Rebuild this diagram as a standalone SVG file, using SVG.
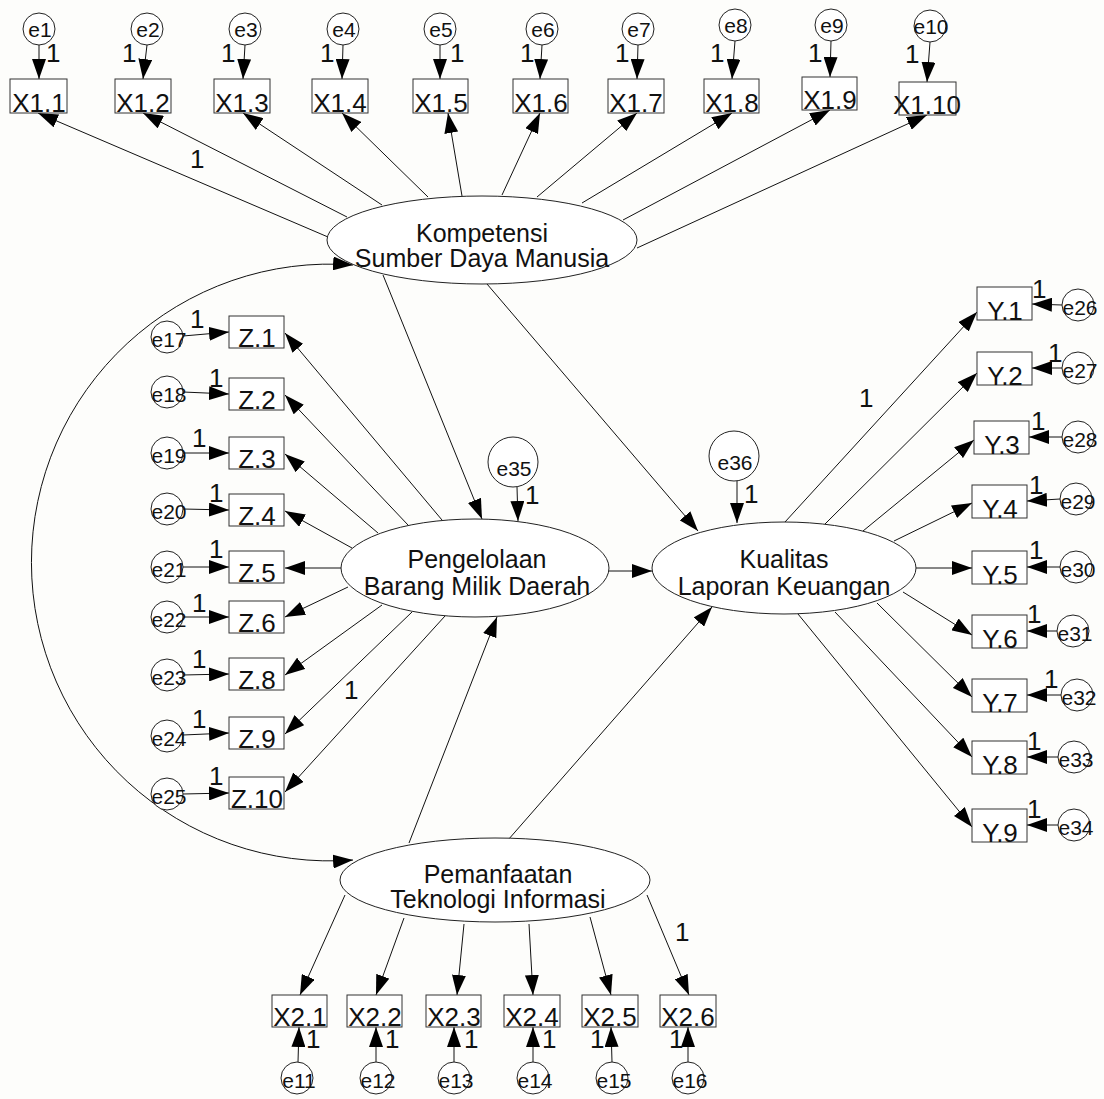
<svg xmlns="http://www.w3.org/2000/svg" width="1104" height="1099" viewBox="0 0 1104 1099">
  <style>
    .ln { stroke:#111; stroke-width:1; fill:none; marker-end:url(#ah); }
    .cov { stroke:#111; stroke-width:1; fill:none; marker-start:url(#ah); marker-end:url(#ah); }
    .box { fill:#fff; stroke:#333; stroke-width:1; }
    .err { fill:#fff; stroke:#222; stroke-width:1; }
    .lat { fill:#fff; stroke:#222; stroke-width:1; }
    text { font-family:"Liberation Sans", Arial, sans-serif; fill:#111; }
    .bt { font-size:26px; text-anchor:middle; }
    .et { font-size:21px; text-anchor:middle; }
    .lt { font-size:25px; text-anchor:middle; }
    .one { font-size:26px; }
  </style>
  <defs>
    <marker id="ah" markerUnits="userSpaceOnUse" markerWidth="20" markerHeight="14" viewBox="0 0 20 14" refX="20" refY="7" orient="auto-start-reverse">
      <path d="M0,0 L20,7 L0,14 z" fill="#000"/>
    </marker>
  </defs>
  <rect width="1104" height="1099" fill="#fdfdfb"/>

  <!-- connectors -->
  <g id="connectors">
    <!-- covariance between exogenous latents -->
    <path class="cov" d="M353,265 A298.4,298.4 0 1 0 353,860"/>
    <!-- Kompetensi SDM loadings -->
    <line class="ln" x1="328" y1="237" x2="38" y2="113"/>
    <line class="ln" x1="347" y1="217" x2="143" y2="113"/>
    <line class="ln" x1="382" y1="205" x2="243" y2="113"/>
    <line class="ln" x1="428" y1="197" x2="342" y2="113"/>
    <line class="ln" x1="462" y1="196" x2="448" y2="113"/>
    <line class="ln" x1="502" y1="195" x2="540" y2="113"/>
    <line class="ln" x1="537" y1="197" x2="637" y2="113"/>
    <line class="ln" x1="582" y1="203" x2="732" y2="113"/>
    <line class="ln" x1="623" y1="220" x2="830" y2="110"/>
    <line class="ln" x1="637" y1="248" x2="927" y2="115"/>
    <!-- structural paths -->
    <line class="ln" x1="383" y1="275" x2="482" y2="519"/>
    <line class="ln" x1="487" y1="284" x2="698" y2="531"/>
    <line class="ln" x1="609" y1="571" x2="652" y2="571"/>
    <line class="ln" x1="409" y1="843" x2="497" y2="617"/>
    <line class="ln" x1="508" y1="840" x2="712" y2="607"/>
    <!-- Pengelolaan BMD loadings -->
    <line class="ln" x1="442" y1="520" x2="285" y2="333"/>
    <line class="ln" x1="408" y1="525" x2="285" y2="395"/>
    <line class="ln" x1="378" y1="533" x2="285" y2="454"/>
    <line class="ln" x1="352" y1="548" x2="285" y2="511"/>
    <line class="ln" x1="342" y1="568" x2="285" y2="568"/>
    <line class="ln" x1="348" y1="587" x2="285" y2="617"/>
    <line class="ln" x1="382" y1="605" x2="285" y2="675"/>
    <line class="ln" x1="412" y1="612" x2="285" y2="734"/>
    <line class="ln" x1="445" y1="616" x2="285" y2="792"/>
    <!-- Kualitas LK loadings -->
    <line class="ln" x1="785" y1="522" x2="977" y2="312"/>
    <line class="ln" x1="825" y1="524" x2="977" y2="373"/>
    <line class="ln" x1="863" y1="531" x2="974" y2="440"/>
    <line class="ln" x1="894" y1="541" x2="972" y2="503"/>
    <line class="ln" x1="916" y1="568" x2="972" y2="568"/>
    <line class="ln" x1="903" y1="592" x2="972" y2="635"/>
    <line class="ln" x1="877" y1="603" x2="972" y2="697"/>
    <line class="ln" x1="835" y1="612" x2="972" y2="757"/>
    <line class="ln" x1="798" y1="614" x2="972" y2="827"/>
    <!-- Pemanfaatan TI loadings -->
    <line class="ln" x1="345" y1="895" x2="300" y2="995"/>
    <line class="ln" x1="404" y1="918" x2="376" y2="995"/>
    <line class="ln" x1="464" y1="924" x2="457" y2="995"/>
    <line class="ln" x1="529" y1="924" x2="533" y2="995"/>
    <line class="ln" x1="590" y1="917" x2="611" y2="995"/>
    <line class="ln" x1="647" y1="895" x2="689" y2="995"/>
    <!-- error terms, top row -->
    <line class="ln" x1="39" y1="45" x2="39" y2="79"/>
    <line class="ln" x1="147" y1="45" x2="143" y2="79"/>
    <line class="ln" x1="245" y1="45" x2="243" y2="79"/>
    <line class="ln" x1="343" y1="45" x2="342" y2="79"/>
    <line class="ln" x1="440" y1="45" x2="440" y2="79"/>
    <line class="ln" x1="542" y1="45" x2="540" y2="79"/>
    <line class="ln" x1="638" y1="45" x2="637" y2="79"/>
    <line class="ln" x1="735" y1="41" x2="732" y2="79"/>
    <line class="ln" x1="831" y1="41" x2="830" y2="77"/>
    <line class="ln" x1="930" y1="42" x2="927" y2="82"/>
    <!-- error terms, Z column -->
    <line class="ln" x1="183" y1="336" x2="229" y2="332"/>
    <line class="ln" x1="183" y1="392" x2="229" y2="394"/>
    <line class="ln" x1="183" y1="453" x2="229" y2="453"/>
    <line class="ln" x1="183" y1="509" x2="229" y2="510"/>
    <line class="ln" x1="183" y1="567" x2="229" y2="567"/>
    <line class="ln" x1="183" y1="617" x2="229" y2="617"/>
    <line class="ln" x1="183" y1="675" x2="229" y2="674"/>
    <line class="ln" x1="183" y1="735" x2="229" y2="733"/>
    <line class="ln" x1="183" y1="794" x2="229" y2="793"/>
    <!-- error terms, Y column -->
    <line class="ln" x1="1062" y1="305" x2="1032" y2="304"/>
    <line class="ln" x1="1062" y1="368" x2="1032" y2="368"/>
    <line class="ln" x1="1062" y1="437" x2="1029" y2="437"/>
    <line class="ln" x1="1060" y1="499" x2="1027" y2="501"/>
    <line class="ln" x1="1060" y1="567" x2="1027" y2="567"/>
    <line class="ln" x1="1057" y1="631" x2="1027" y2="631"/>
    <line class="ln" x1="1061" y1="695" x2="1027" y2="695"/>
    <line class="ln" x1="1058" y1="757" x2="1027" y2="757"/>
    <line class="ln" x1="1058" y1="825" x2="1027" y2="825"/>
    <!-- error terms, bottom row -->
    <line class="ln" x1="298" y1="1062" x2="299" y2="1027"/>
    <line class="ln" x1="376" y1="1062" x2="376" y2="1027"/>
    <line class="ln" x1="454" y1="1062" x2="454" y2="1027"/>
    <line class="ln" x1="533" y1="1062" x2="533" y2="1027"/>
    <line class="ln" x1="612" y1="1062" x2="611" y2="1027"/>
    <line class="ln" x1="688" y1="1062" x2="688" y2="1027"/>
    <!-- disturbances -->
    <line class="ln" x1="517" y1="487" x2="518" y2="521"/>
    <line class="ln" x1="737" y1="481" x2="737" y2="523"/>
  </g>

  <!-- regression weight labels -->
  <g id="weights" class="one">
    <text x="46" y="62">1</text>
    <text x="122" y="62">1</text>
    <text x="221" y="62">1</text>
    <text x="320" y="62">1</text>
    <text x="450" y="62">1</text>
    <text x="520" y="62">1</text>
    <text x="615" y="62">1</text>
    <text x="710" y="62">1</text>
    <text x="808" y="62">1</text>
    <text x="905" y="63">1</text>
    <text x="190" y="168">1</text>
    <text x="190" y="328">1</text>
    <text x="209" y="387">1</text>
    <text x="192" y="447">1</text>
    <text x="209" y="502">1</text>
    <text x="209" y="558">1</text>
    <text x="192" y="612">1</text>
    <text x="192" y="668">1</text>
    <text x="192" y="728">1</text>
    <text x="209" y="785">1</text>
    <text x="344" y="699">1</text>
    <text x="1032" y="298">1</text>
    <text x="1048" y="362">1</text>
    <text x="1031" y="430">1</text>
    <text x="1029" y="494">1</text>
    <text x="1029" y="559">1</text>
    <text x="1027" y="623">1</text>
    <text x="1044" y="688">1</text>
    <text x="1027" y="750">1</text>
    <text x="1027" y="818">1</text>
    <text x="859" y="407">1</text>
    <text x="525" y="504">1</text>
    <text x="744" y="503">1</text>
    <text x="306" y="1048">1</text>
    <text x="385" y="1048">1</text>
    <text x="464" y="1048">1</text>
    <text x="542" y="1048">1</text>
    <text x="590" y="1048">1</text>
    <text x="669" y="1048">1</text>
    <text x="675" y="941">1</text>
  </g>

  <!-- latent variables -->
  <g id="ksdm">
    <ellipse class="lat" cx="482" cy="240" rx="155" ry="44"/>
    <text class="lt" x="482" y="242">Kompetensi</text>
    <text class="lt" x="482" y="267">Sumber Daya Manusia</text>
  </g>
  <g id="pbmd">
    <ellipse class="lat" cx="475" cy="568" rx="134" ry="49"/>
    <text class="lt" x="477" y="568">Pengelolaan</text>
    <text class="lt" x="477" y="595">Barang Milik Daerah</text>
  </g>
  <g id="klk">
    <ellipse class="lat" cx="784" cy="568" rx="132" ry="46"/>
    <text class="lt" x="784" y="568">Kualitas</text>
    <text class="lt" x="784" y="595">Laporan Keuangan</text>
  </g>
  <g id="pti">
    <ellipse class="lat" cx="495" cy="880" rx="155" ry="42"/>
    <text class="lt" x="498" y="883">Pemanfaatan</text>
    <text class="lt" x="498" y="908">Teknologi Informasi</text>
  </g>

  <!-- disturbances -->
  <g id="e35"><circle class="err" cx="513" cy="462" r="25"/><text class="et" x="514" y="476">e35</text></g>
  <g id="e36"><circle class="err" cx="734" cy="456" r="25"/><text class="et" x="735" y="470">e36</text></g>

  <!-- indicators of Kompetensi SDM -->
  <g id="X1.1"><rect class="box" x="10" y="79" width="57" height="34"/><text class="bt" x="39" y="112">X1.1</text></g>
  <g id="X1.2"><rect class="box" x="115" y="79" width="56" height="34"/><text class="bt" x="143" y="112">X1.2</text></g>
  <g id="X1.3"><rect class="box" x="214" y="79" width="56" height="34"/><text class="bt" x="242" y="112">X1.3</text></g>
  <g id="X1.4"><rect class="box" x="312" y="79" width="56" height="34"/><text class="bt" x="340" y="112">X1.4</text></g>
  <g id="X1.5"><rect class="box" x="413" y="79" width="55" height="34"/><text class="bt" x="441" y="112">X1.5</text></g>
  <g id="X1.6"><rect class="box" x="513" y="79" width="55" height="34"/><text class="bt" x="541" y="112">X1.6</text></g>
  <g id="X1.7"><rect class="box" x="608" y="79" width="56" height="34"/><text class="bt" x="636" y="112">X1.7</text></g>
  <g id="X1.8"><rect class="box" x="704" y="79" width="55" height="34"/><text class="bt" x="732" y="112">X1.8</text></g>
  <g id="X1.9"><rect class="box" x="802" y="77" width="55" height="33"/><text class="bt" x="830" y="109">X1.9</text></g>
  <g id="X1.10"><rect class="box" x="899" y="82" width="57" height="33"/><text class="bt" x="927" y="114">X1.10</text></g>

  <!-- errors of Kompetensi SDM indicators -->
  <g id="e1"><circle class="err" cx="39" cy="29" r="16"/><text class="et" x="40" y="37">e1</text></g>
  <g id="e2"><circle class="err" cx="147" cy="29" r="16"/><text class="et" x="148" y="37">e2</text></g>
  <g id="e3"><circle class="err" cx="245" cy="29" r="16"/><text class="et" x="246" y="37">e3</text></g>
  <g id="e4"><circle class="err" cx="343" cy="29" r="16"/><text class="et" x="344" y="37">e4</text></g>
  <g id="e5"><circle class="err" cx="440" cy="29" r="16"/><text class="et" x="441" y="37">e5</text></g>
  <g id="e6"><circle class="err" cx="542" cy="29" r="16"/><text class="et" x="543" y="37">e6</text></g>
  <g id="e7"><circle class="err" cx="638" cy="29" r="16"/><text class="et" x="639" y="37">e7</text></g>
  <g id="e8"><circle class="err" cx="735" cy="25" r="16"/><text class="et" x="736" y="33">e8</text></g>
  <g id="e9"><circle class="err" cx="831" cy="25" r="16"/><text class="et" x="832" y="33">e9</text></g>
  <g id="e10"><circle class="err" cx="930" cy="26" r="16"/><text class="et" x="931" y="34">e10</text></g>

  <!-- indicators of Pengelolaan BMD -->
  <g id="Z.1"><rect class="box" x="229" y="316" width="55" height="32"/><text class="bt" x="257" y="347">Z.1</text></g>
  <g id="Z.2"><rect class="box" x="229" y="378" width="55" height="32"/><text class="bt" x="257" y="409">Z.2</text></g>
  <g id="Z.3"><rect class="box" x="229" y="437" width="55" height="32"/><text class="bt" x="257" y="468">Z.3</text></g>
  <g id="Z.4"><rect class="box" x="229" y="494" width="55" height="32"/><text class="bt" x="257" y="525">Z.4</text></g>
  <g id="Z.5"><rect class="box" x="229" y="551" width="55" height="32"/><text class="bt" x="257" y="582">Z.5</text></g>
  <g id="Z.6"><rect class="box" x="229" y="601" width="55" height="32"/><text class="bt" x="257" y="632">Z.6</text></g>
  <g id="Z.8"><rect class="box" x="229" y="658" width="55" height="32"/><text class="bt" x="257" y="689">Z.8</text></g>
  <g id="Z.9"><rect class="box" x="229" y="717" width="55" height="32"/><text class="bt" x="257" y="748">Z.9</text></g>
  <g id="Z.10"><rect class="box" x="229" y="777" width="55" height="32"/><text class="bt" x="257" y="808">Z.10</text></g>

  <!-- errors of Pengelolaan BMD indicators -->
  <g id="e17"><circle class="err" cx="167" cy="337" r="16"/><text class="et" x="169" y="347">e17</text></g>
  <g id="e18"><circle class="err" cx="167" cy="392" r="16"/><text class="et" x="169" y="402">e18</text></g>
  <g id="e19"><circle class="err" cx="167" cy="453" r="16"/><text class="et" x="169" y="463">e19</text></g>
  <g id="e20"><circle class="err" cx="167" cy="509" r="16"/><text class="et" x="169" y="519">e20</text></g>
  <g id="e21"><circle class="err" cx="167" cy="567" r="16"/><text class="et" x="169" y="577">e21</text></g>
  <g id="e22"><circle class="err" cx="167" cy="617" r="16"/><text class="et" x="169" y="627">e22</text></g>
  <g id="e23"><circle class="err" cx="167" cy="675" r="16"/><text class="et" x="169" y="685">e23</text></g>
  <g id="e24"><circle class="err" cx="167" cy="736" r="16"/><text class="et" x="169" y="746">e24</text></g>
  <g id="e25"><circle class="err" cx="167" cy="794" r="16"/><text class="et" x="169" y="804">e25</text></g>

  <!-- indicators of Kualitas LK -->
  <g id="Y.1"><rect class="box" x="977" y="287" width="55" height="33"/><text class="bt" x="1005" y="320">Y.1</text></g>
  <g id="Y.2"><rect class="box" x="977" y="352" width="55" height="33"/><text class="bt" x="1005" y="385">Y.2</text></g>
  <g id="Y.3"><rect class="box" x="974" y="421" width="55" height="33"/><text class="bt" x="1002" y="454">Y.3</text></g>
  <g id="Y.4"><rect class="box" x="972" y="485" width="55" height="33"/><text class="bt" x="1000" y="518">Y.4</text></g>
  <g id="Y.5"><rect class="box" x="972" y="551" width="55" height="33"/><text class="bt" x="1000" y="584">Y.5</text></g>
  <g id="Y.6"><rect class="box" x="972" y="615" width="55" height="33"/><text class="bt" x="1000" y="648">Y.6</text></g>
  <g id="Y.7"><rect class="box" x="972" y="679" width="55" height="33"/><text class="bt" x="1000" y="712">Y.7</text></g>
  <g id="Y.8"><rect class="box" x="972" y="741" width="55" height="33"/><text class="bt" x="1000" y="774">Y.8</text></g>
  <g id="Y.9"><rect class="box" x="972" y="809" width="55" height="33"/><text class="bt" x="1000" y="842">Y.9</text></g>

  <!-- errors of Kualitas LK indicators -->
  <g id="e26"><circle class="err" cx="1078" cy="305" r="16"/><text class="et" x="1080" y="315">e26</text></g>
  <g id="e27"><circle class="err" cx="1078" cy="368" r="16"/><text class="et" x="1080" y="378">e27</text></g>
  <g id="e28"><circle class="err" cx="1078" cy="437" r="16"/><text class="et" x="1080" y="447">e28</text></g>
  <g id="e29"><circle class="err" cx="1076" cy="499" r="16"/><text class="et" x="1078" y="509">e29</text></g>
  <g id="e30"><circle class="err" cx="1076" cy="567" r="16"/><text class="et" x="1078" y="577">e30</text></g>
  <g id="e31"><circle class="err" cx="1073" cy="631" r="16"/><text class="et" x="1075" y="641">e31</text></g>
  <g id="e32"><circle class="err" cx="1077" cy="695" r="16"/><text class="et" x="1079" y="705">e32</text></g>
  <g id="e33"><circle class="err" cx="1074" cy="757" r="16"/><text class="et" x="1076" y="767">e33</text></g>
  <g id="e34"><circle class="err" cx="1074" cy="825" r="16"/><text class="et" x="1076" y="835">e34</text></g>

  <!-- indicators of Pemanfaatan TI -->
  <g id="X2.1"><rect class="box" x="272" y="995" width="55" height="32"/><text class="bt" x="300" y="1026">X2.1</text></g>
  <g id="X2.2"><rect class="box" x="347" y="995" width="55" height="32"/><text class="bt" x="375" y="1026">X2.2</text></g>
  <g id="X2.3"><rect class="box" x="426" y="995" width="55" height="32"/><text class="bt" x="454" y="1026">X2.3</text></g>
  <g id="X2.4"><rect class="box" x="504" y="995" width="56" height="32"/><text class="bt" x="532" y="1026">X2.4</text></g>
  <g id="X2.5"><rect class="box" x="582" y="995" width="56" height="32"/><text class="bt" x="610" y="1026">X2.5</text></g>
  <g id="X2.6"><rect class="box" x="660" y="995" width="56" height="32"/><text class="bt" x="688" y="1026">X2.6</text></g>

  <!-- errors of Pemanfaatan TI indicators -->
  <g id="e11"><circle class="err" cx="297" cy="1078" r="16"/><text class="et" x="299" y="1088">e11</text></g>
  <g id="e12"><circle class="err" cx="376" cy="1078" r="16"/><text class="et" x="378" y="1088">e12</text></g>
  <g id="e13"><circle class="err" cx="454" cy="1078" r="16"/><text class="et" x="456" y="1088">e13</text></g>
  <g id="e14"><circle class="err" cx="533" cy="1078" r="16"/><text class="et" x="535" y="1088">e14</text></g>
  <g id="e15"><circle class="err" cx="612" cy="1078" r="16"/><text class="et" x="614" y="1088">e15</text></g>
  <g id="e16"><circle class="err" cx="688" cy="1078" r="16"/><text class="et" x="690" y="1088">e16</text></g>
</svg>
